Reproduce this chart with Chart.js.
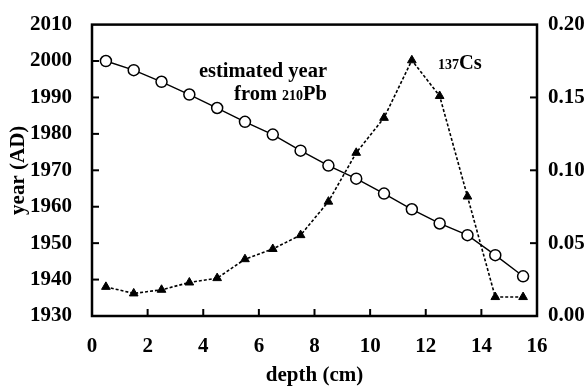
<!DOCTYPE html>
<html>
<head>
<meta charset="utf-8">
<script src="https://cdn.jsdelivr.net/npm/chart.js@4"></script>
<style>
  html, body { margin: 0; padding: 0; background: #fff; }
  #wrap { width: 587px; height: 390px; }
</style>
</head>
<body>
<div id="wrap"><canvas id="chart" width="587" height="390"></canvas></div>
<script>
// depth of each slice (cm)
const depths = [0.5, 1.5, 2.5, 3.5, 4.5, 5.5, 6.5, 7.5, 8.5, 9.5, 10.5, 11.5, 12.5, 13.5, 14.5, 15.5];
// estimated year from 210Pb
const yearPb = [2000.0, 1997.5, 1994.3, 1990.8, 1987.1, 1983.3, 1979.8, 1975.4, 1971.3, 1967.7, 1963.6, 1959.3, 1955.4, 1952.2, 1946.7, 1940.9];
// 137Cs activity
const cs137 = [0.020, 0.0155, 0.018, 0.023, 0.026, 0.039, 0.046, 0.0555, 0.0785, 0.112, 0.136, 0.1755, 0.151, 0.082, 0.013, 0.013];

const serif = "'Liberation Serif', 'DejaVu Serif', serif";
const tickFont = { family: serif, size: 21, weight: 'bold' };

// frame, inward ticks and the two labels
const extras = {
  id: 'extras',
  afterDraw(chart) {
    const c = chart.ctx, a = chart.chartArea;
    c.save();
    c.strokeStyle = '#000';
    c.lineWidth = 2.5;
    c.strokeRect(a.left, a.top, a.right - a.left, a.bottom - a.top);

    c.lineWidth = 2;
    const len = 7;
    const sx = chart.scales.x, sy = chart.scales.y, sy1 = chart.scales.y1;
    sx.ticks.forEach(t => {
      if (t.value <= sx.min || t.value >= sx.max) return;
      const px = sx.getPixelForValue(t.value);
      c.beginPath(); c.moveTo(px, a.bottom); c.lineTo(px, a.bottom - len); c.stroke();
    });
    sy.ticks.forEach(t => {
      if (t.value <= sy.min || t.value >= sy.max) return;
      const py = sy.getPixelForValue(t.value);
      c.beginPath(); c.moveTo(a.left, py); c.lineTo(a.left + len, py); c.stroke();
    });
    sy1.ticks.forEach(t => {
      if (t.value <= sy1.min + 1e-9 || t.value >= sy1.max - 1e-9) return;
      const py = sy1.getPixelForValue(t.value);
      c.beginPath(); c.moveTo(a.right, py); c.lineTo(a.right - len, py); c.stroke();
    });

    // labels
    c.fillStyle = '#000';
    c.textBaseline = 'alphabetic';
    c.textAlign = 'right';
    const big = "bold 20.5px " + serif, small = "bold 14px " + serif;
    c.font = big;
    c.fillText('estimated year', 327, 77);
    const pbW = c.measureText('Pb').width;
    c.fillText('Pb', 327, 100);
    c.font = small;
    const w210 = c.measureText('210').width;
    c.fillText('210', 327 - pbW, 100);
    c.font = big;
    c.fillText('from ', 327 - pbW - w210, 100);

    c.textAlign = 'left';
    c.font = small;
    c.fillText('137', 438, 69);
    const w137 = c.measureText('137').width;
    c.font = big;
    c.fillText('Cs', 438 + w137, 69);
    c.restore();
  }
};

const ctx = document.getElementById("chart").getContext("2d");
new Chart(ctx, {
  type: 'line',
  data: {
    datasets: [{
      label: 'estimated year from 210Pb',
      data: depths.map((d, i) => ({ x: d, y: yearPb[i] })),
      yAxisID: 'y',
      borderColor: '#000',
      borderWidth: 1.4,
      pointStyle: 'circle',
      pointRadius: 5.5,
      pointBorderWidth: 1.5,
      pointBackgroundColor: '#fff',
      pointBorderColor: '#000',
      tension: 0
    }, {
      label: '137Cs',
      data: depths.map((d, i) => ({ x: d, y: cs137[i] })),
      yAxisID: 'y1',
      borderColor: '#000',
      borderWidth: 1.6,
      borderDash: [3, 2],
      pointStyle: 'triangle',
      pointRadius: 5,
      pointBorderWidth: 1,
      pointBackgroundColor: '#000',
      pointBorderColor: '#000',
      tension: 0
    }]
  },
  options: {
    responsive: false,
    animation: false,
    layout: { padding: { top: 16, left: 0, right: 0, bottom: 0 } },
    plugins: {
      legend: { display: false },
      tooltip: { enabled: false }
    },
    scales: {
      x: {
        type: 'linear',
        min: 0, max: 16,
        afterFit: s => { s.height = 74; },
        grid: { display: false },
        border: { display: false },
        ticks: { stepSize: 2, color: '#000', font: tickFont, padding: 10 },
        title: { display: true, text: 'depth (cm)', color: '#000', font: tickFont, padding: { top: 0, bottom: 2 } }
      },
      y: {
        position: 'left',
        min: 1930, max: 2010,
        afterFit: s => { s.width = 92; },
        grid: { display: false },
        border: { display: false },
        ticks: { stepSize: 10, color: '#000', font: tickFont, padding: 12, callback: v => String(v) },
        title: { display: true, text: 'year (AD)', color: '#000', font: tickFont, padding: { top: 6, bottom: 0 } }
      },
      y1: {
        position: 'right',
        min: 0, max: 0.2,
        afterFit: s => { s.width = 50; },
        grid: { display: false },
        border: { display: false },
        ticks: {
          stepSize: 0.05, color: '#000', font: tickFont, padding: 3,
          callback: v => v.toFixed(2)
        }
      }
    }
  },
  plugins: [extras]
});
</script>
</body>
</html>
